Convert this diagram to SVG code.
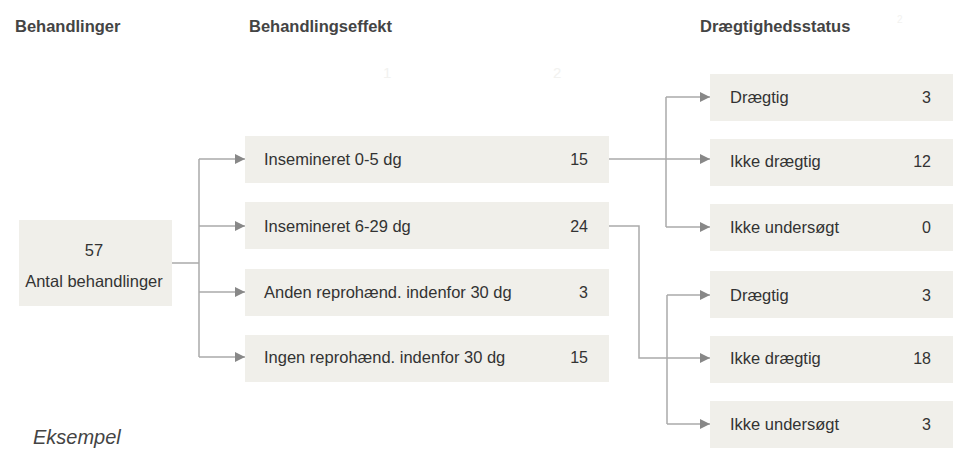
<svg xmlns="http://www.w3.org/2000/svg" width="964" height="461" viewBox="0 0 964 461">
<style>
.bg{fill:#ffffff}
.box{fill:#f0efea}
.hdr{font-family:"Liberation Sans",Arial,sans-serif;font-size:16.5px;font-weight:bold;fill:#444}
.t{font-family:"Liberation Sans",Arial,sans-serif;font-size:16.5px;fill:#333}
.n{font-family:"Liberation Sans",Arial,sans-serif;font-size:16px;fill:#333;text-anchor:end}
.c{text-anchor:middle}
.faint{font-family:"Liberation Sans",Arial,sans-serif;font-size:15px;fill:#f2f2f0}
.ln{fill:none;stroke:#aaa;stroke-width:1.5}
.ex{font-family:"Liberation Sans",Arial,sans-serif;font-size:20px;font-style:italic;fill:#444}
</style>
<defs>
<marker id="arr" viewBox="0 0 10 10" refX="10" refY="5" markerWidth="11" markerHeight="10" markerUnits="userSpaceOnUse" orient="auto">
<path d="M0,0 L10,5 L0,10 z" fill="#888"/>
</marker>
</defs>
<rect class="bg" x="0" y="0" width="964" height="461"/>
<text class="hdr" x="15" y="32">Behandlinger</text>
<text class="hdr" x="249" y="32">Behandlingseffekt</text>
<text class="hdr" x="700" y="32">Drægtighedsstatus</text>
<text class="faint" x="383" y="78">1</text>
<text class="faint" x="553" y="78">2</text>
<text class="faint" x="897" y="23" style="font-size:10px">2</text>

<g id="connectors">
<path class="ln" d="M172,263 H199"/>
<path class="ln" d="M199,159 V357"/>
<path class="ln" d="M199,159 H245" marker-end="url(#arr)"/>
<path class="ln" d="M199,226 H245" marker-end="url(#arr)"/>
<path class="ln" d="M199,292 H245" marker-end="url(#arr)"/>
<path class="ln" d="M199,357 H245" marker-end="url(#arr)"/>
<path class="ln" d="M609,159 H710" marker-end="url(#arr)"/>
<path class="ln" d="M666,97 V227"/>
<path class="ln" d="M666,97 H710" marker-end="url(#arr)"/>
<path class="ln" d="M666,227 H710" marker-end="url(#arr)"/>
<path class="ln" d="M609,226 H639 V358 H710" marker-end="url(#arr)"/>
<path class="ln" d="M667,295 V424"/>
<path class="ln" d="M667,295 H710" marker-end="url(#arr)"/>
<path class="ln" d="M667,424 H710" marker-end="url(#arr)"/>
</g>

<g id="root">
<rect class="box" x="19" y="220" width="153" height="86"/>
<text class="t c" x="94" y="256">57</text>
<text class="t c" x="94" y="287">Antal behandlinger</text>
</g>

<g id="m1"><rect class="box" x="245" y="136" width="364" height="47"/><text class="t" x="264" y="165">Insemineret 0-5 dg</text><text class="n" x="588" y="165">15</text></g>
<g id="m2"><rect class="box" x="245" y="202" width="364" height="47"/><text class="t" x="264" y="232">Insemineret 6-29 dg</text><text class="n" x="588" y="232">24</text></g>
<g id="m3"><rect class="box" x="245" y="269" width="364" height="47"/><text class="t" x="264" y="298">Anden reprohænd. indenfor 30 dg</text><text class="n" x="588" y="298">3</text></g>
<g id="m4"><rect class="box" x="245" y="335" width="364" height="47"/><text class="t" x="264" y="363">Ingen reprohænd. indenfor 30 dg</text><text class="n" x="588" y="363">15</text></g>

<g id="r1"><rect class="box" x="710" y="74" width="243" height="47"/><text class="t" x="730" y="103">Drægtig</text><text class="n" x="931" y="103">3</text></g>
<g id="r2"><rect class="box" x="710" y="139" width="243" height="47"/><text class="t" x="730" y="167">Ikke drægtig</text><text class="n" x="931" y="167">12</text></g>
<g id="r3"><rect class="box" x="710" y="204" width="243" height="47"/><text class="t" x="730" y="233">Ikke undersøgt</text><text class="n" x="931" y="233">0</text></g>
<g id="r4"><rect class="box" x="710" y="271" width="243" height="47"/><text class="t" x="730" y="301">Drægtig</text><text class="n" x="931" y="301">3</text></g>
<g id="r5"><rect class="box" x="710" y="336" width="243" height="47"/><text class="t" x="730" y="364">Ikke drægtig</text><text class="n" x="931" y="364">18</text></g>
<g id="r6"><rect class="box" x="710" y="401" width="243" height="47"/><text class="t" x="730" y="430">Ikke undersøgt</text><text class="n" x="931" y="430">3</text></g>

<text class="ex" x="33" y="444">Eksempel</text>
</svg>
